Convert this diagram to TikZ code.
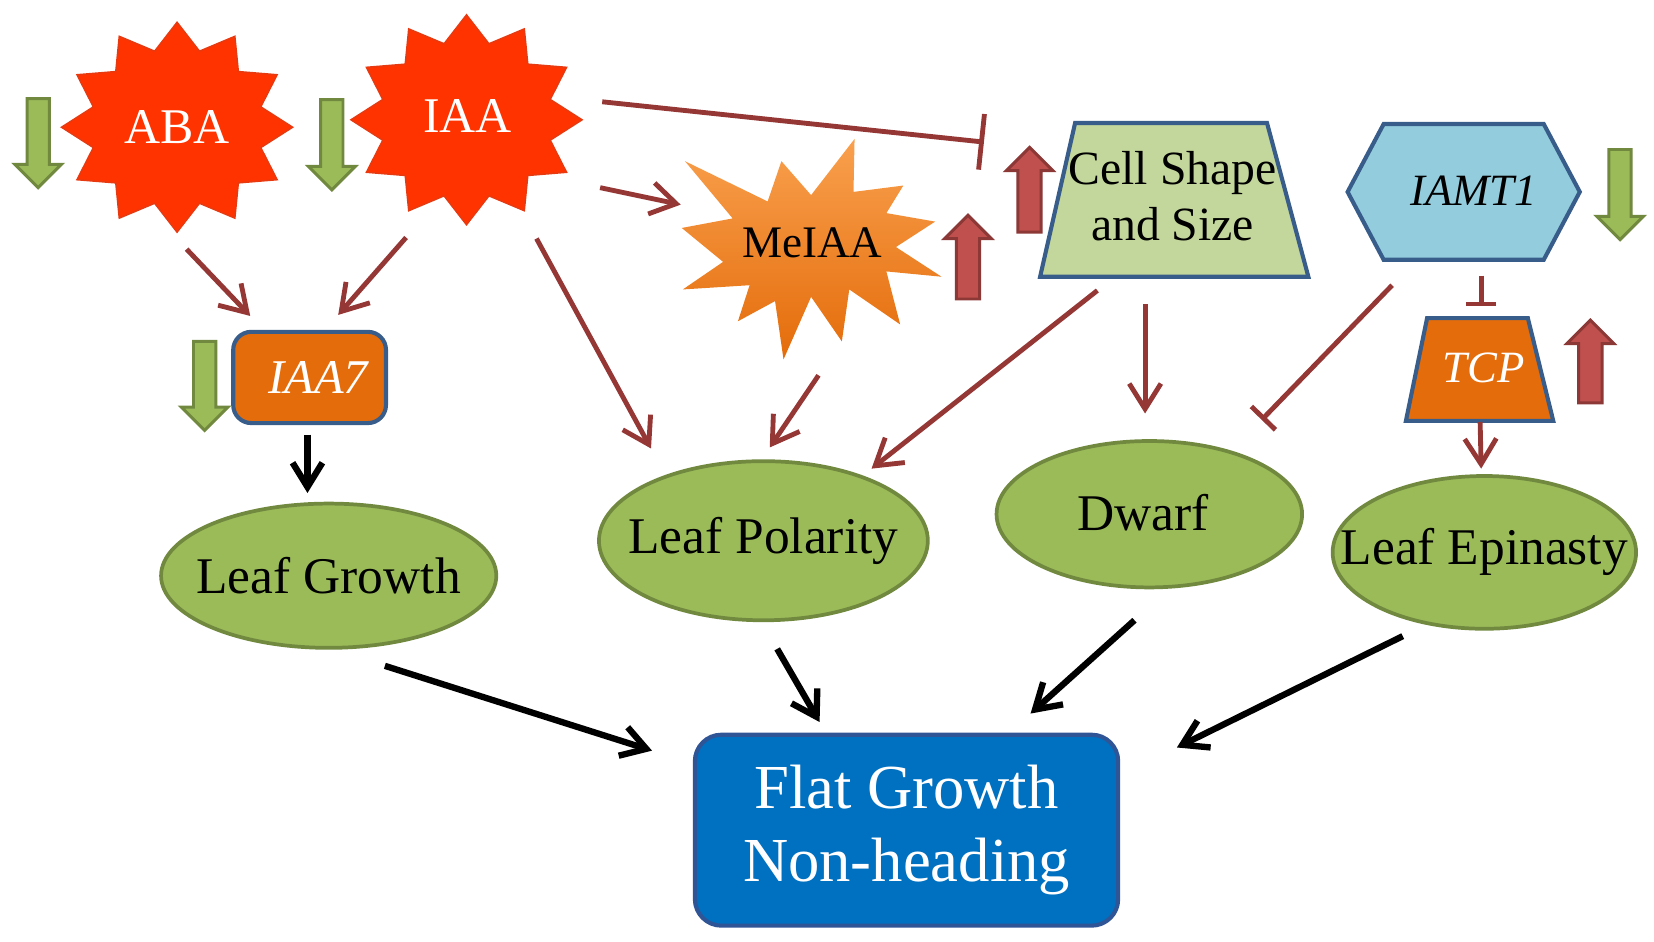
\documentclass[tikz,border=0pt]{standalone}
\usepackage{fontspec}
\setmainfont{Liberation Serif}
\usetikzlibrary{arrows.meta,calc,shapes.geometric}
\definecolor{starred}{HTML}{FF3300}
\definecolor{starrim}{HTML}{E83A10}
\definecolor{meitop}{HTML}{F9A04E}
\definecolor{meibot}{HTML}{E46C0A}
\definecolor{maroon}{HTML}{953735}
\definecolor{ggreen}{HTML}{9BBB59}
\definecolor{ggreenedge}{HTML}{71893F}
\definecolor{rarrfill}{HTML}{C0504D}
\definecolor{rarredge}{HTML}{8C3836}
\definecolor{leafgreen}{HTML}{9BBB59}
\definecolor{leafedge}{HTML}{71893F}
\definecolor{cellfill}{HTML}{C3D69B}
\definecolor{boxedge}{HTML}{385D8A}
\definecolor{iamtfill}{HTML}{93CDDD}
\definecolor{orangefill}{HTML}{E46C0A}
\definecolor{flatfill}{HTML}{0070C0}
\definecolor{flatedge}{HTML}{2F5597}

\newcommand\starshape[4]{\fill[starred, draw=starrim, line width=0.4pt] plot[samples at={0,15,...,345}, variable=\t] ({#1+ifthenelse(mod(\t,30)==0,1,0.75)*#3*cos(\t)},{#2+ifthenelse(mod(\t,30)==0,1,0.75)*#4*sin(\t)}) -- cycle;}
\newcommand\downarr[3]{\draw[garr] ({#1-10.5},#2) -- ({#1+10.5},#2) -- ({#1+10.5},{#3-22}) -- ({#1+22},{#3-22}) -- (#1,#3) -- ({#1-22},{#3-22}) -- ({#1-10.5},{#3-22}) -- cycle;}
\newcommand\uparr[3]{\draw[rarr] ({#1-11},#2) -- ({#1+11},#2) -- ({#1+11},{#3+22}) -- ({#1+22},{#3+22}) -- (#1,#3) -- ({#1-22},{#3+22}) -- ({#1-11},{#3+22}) -- cycle;}

\begin{document}
\begin{tikzpicture}[x=0.01cm,y=-0.01cm,
 startext/.style={text=white, font=\fontsize{13.4pt}{16pt}\selectfont, inner sep=0pt},
 leafnode/.style={ellipse, draw=leafedge, fill=leafgreen, line width=1pt, inner sep=0pt, font=\fontsize{13.8pt}{16pt}\selectfont},
 redarr/.style={draw=maroon, line width=1.3pt, -{Straight Barb[length=6.8pt,width=8.5pt]}},
 inhib/.style={draw=maroon, line width=1.3pt, -{Bar[width=#1]}},
 blkarr/.style={draw=black, line width=1.7pt, -{Straight Barb[length=6.5pt,width=8pt]}},
 garr/.style={fill=ggreen, draw=ggreenedge, line width=0.8pt},
 rarr/.style={fill=rarrfill, draw=rarredge, line width=0.8pt},
 shapeedge/.style={draw=boxedge, line width=1.1pt},
 smallit/.style={font=\fontsize{12pt}{14pt}\selectfont\itshape, inner sep=0pt},
]
\useasboundingbox (0,0) rectangle (1560,888);

% stars
\starshape{167}{120}{109}{99}
\starshape{440}{113}{109}{99}
\node[startext] (ABA) at (167,120) {ABA};
\node[startext] (IAA) at (441,109) {IAA};

% MeIAA explosion
\path[top color=meitop, bottom color=meibot] (646,152) -- (724,190) -- (737,152) -- (765,184) -- (806,131) -- (805,181) -- (852,175) -- (836,201) -- (882,209) -- (845,233) -- (888,261) -- (836,256) -- (849,306) -- (801,273) -- (794,322) -- (765,280) -- (739,339) -- (731,284) -- (696,303) -- (707,269) -- (644,273) -- (682,247) -- (643,215) -- (691,206) -- cycle;
\node[font=\fontsize{12.1pt}{14pt}\selectfont, inner sep=0pt] (MeIAA) at (766,229) {MeIAA};

% Cell shape and size
\draw[shapeedge, fill=cellfill] (1014,116) -- (1195,116) -- (1234,261) -- (981,261) -- cycle;
\node[align=center, font=\fontsize{12.8pt}{14.8pt}\selectfont, inner sep=0pt] (cell) at (1106,185) {Cell Shape\\and Size};

% IAMT1
\draw[shapeedge, fill=iamtfill] (1271,181) -- (1305,117) -- (1456,117) -- (1490,181) -- (1456,245) -- (1305,245) -- cycle;
\node[smallit] (IAMT) at (1390,180) {IAMT1};

% TCP
\draw[shapeedge, fill=orangefill] (1346,300) -- (1441,300) -- (1465,397) -- (1326,397) -- cycle;
\node[smallit, text=white] (TCP) at (1399,347) {TCP};

% IAA7
\node[shapeedge, fill=orangefill, rounded corners=0.17cm, minimum width=1.44cm, minimum height=0.86cm, inner sep=0pt, text=white, font=\fontsize{13pt}{15pt}\selectfont\itshape] (IAA7) at (292,356) {\hspace*{0.16cm}IAA7};

% phenotypes
\node[leafnode, minimum width=3.16cm, minimum height=1.36cm] (LG) at (310,543) {\makebox[0pt]{Leaf Growth}};
\node[leafnode, minimum width=3.10cm, minimum height=1.50cm] (LP) at (720,510) {\makebox[0pt]{Leaf Polarity}};
\node[leafnode, minimum width=2.88cm, minimum height=1.38cm] (dwarf) at (1084,485) {\makebox[0pt]{\raisebox{0.04cm}{Dwarf}\hspace*{0.12cm}}};
\node[leafnode, minimum width=2.86cm, minimum height=1.44cm] (LE) at (1400,521) {\makebox[0pt]{Leaf Epinasty}};

% outcome
\node[draw=flatedge, line width=1.1pt, fill=flatfill, rounded corners=0.25cm, minimum width=3.99cm, minimum height=1.80cm, text=white, align=center, font=\fontsize{16.8pt}{19.6pt}\selectfont] (flat) at (855,783) {Flat Growth\\Non-heading};

% block arrows
\downarr{36}{93}{177}
\downarr{313}{94}{179}
\downarr{193}{322}{406}
\downarr{1528}{141}{226}
\uparr{913}{282}{203}
\uparr{971}{219}{139}
\uparr{1500}{380}{302}

% connectors
\draw[redarr] ($(ABA)+(9,115)$) -- ($(IAA7)+(-56,-58)$);
\draw[redarr] ($(IAA)+(-58,115)$) -- ($(IAA7)+(27,-59)$);
\draw[redarr] ($(IAA)+(65,116)$) -- ($(LP)+(-106,-87)$);
\draw[redarr] ($(IAA)+(125,68)$) -- ($(MeIAA)+(-124,-36)$);
\draw[inhib=15pt] ($(IAA)+(127,-13)$) -- ($(cell)+(-178,-51)$);
\draw[redarr] ($(MeIAA)+(6,125)$) -- ($(LP)+(6,-88)$);
\draw[redarr] ($(cell)+(-71,89)$) -- ($(LP)+(102,-68)$);
\draw[redarr] ($(cell)+(-26,102)$) -- ($(dwarf)+(-4,-95)$);
\draw[inhib=9pt] ($(IAMT)+(-77,89)$) -- ($(dwarf)+(106,-89)$);
\draw[inhib=8pt] ($(IAMT)+(7,80)$) -- ($(TCP)+(-2,-58)$);
\draw[redarr] ($(TCP)+(-3,51)$) -- ($(LE)+(-3,-79)$);
\draw[blkarr] ($(IAA7)+(-2,54)$) -- ($(LG)+(-20,-78)$);
\draw[blkarr] ($(LG)+(53,85)$) -- ($(flat)+(-240,-75)$);
\draw[blkarr] ($(LP)+(13,102)$) -- ($(flat)+(-82,-102)$);
\draw[blkarr] ($(dwarf)+(-14,100)$) -- ($(flat)+(117,-110)$);
\draw[blkarr] ($(LE)+(-77,79)$) -- ($(flat)+(255,-78)$);
\end{tikzpicture}
\end{document}
